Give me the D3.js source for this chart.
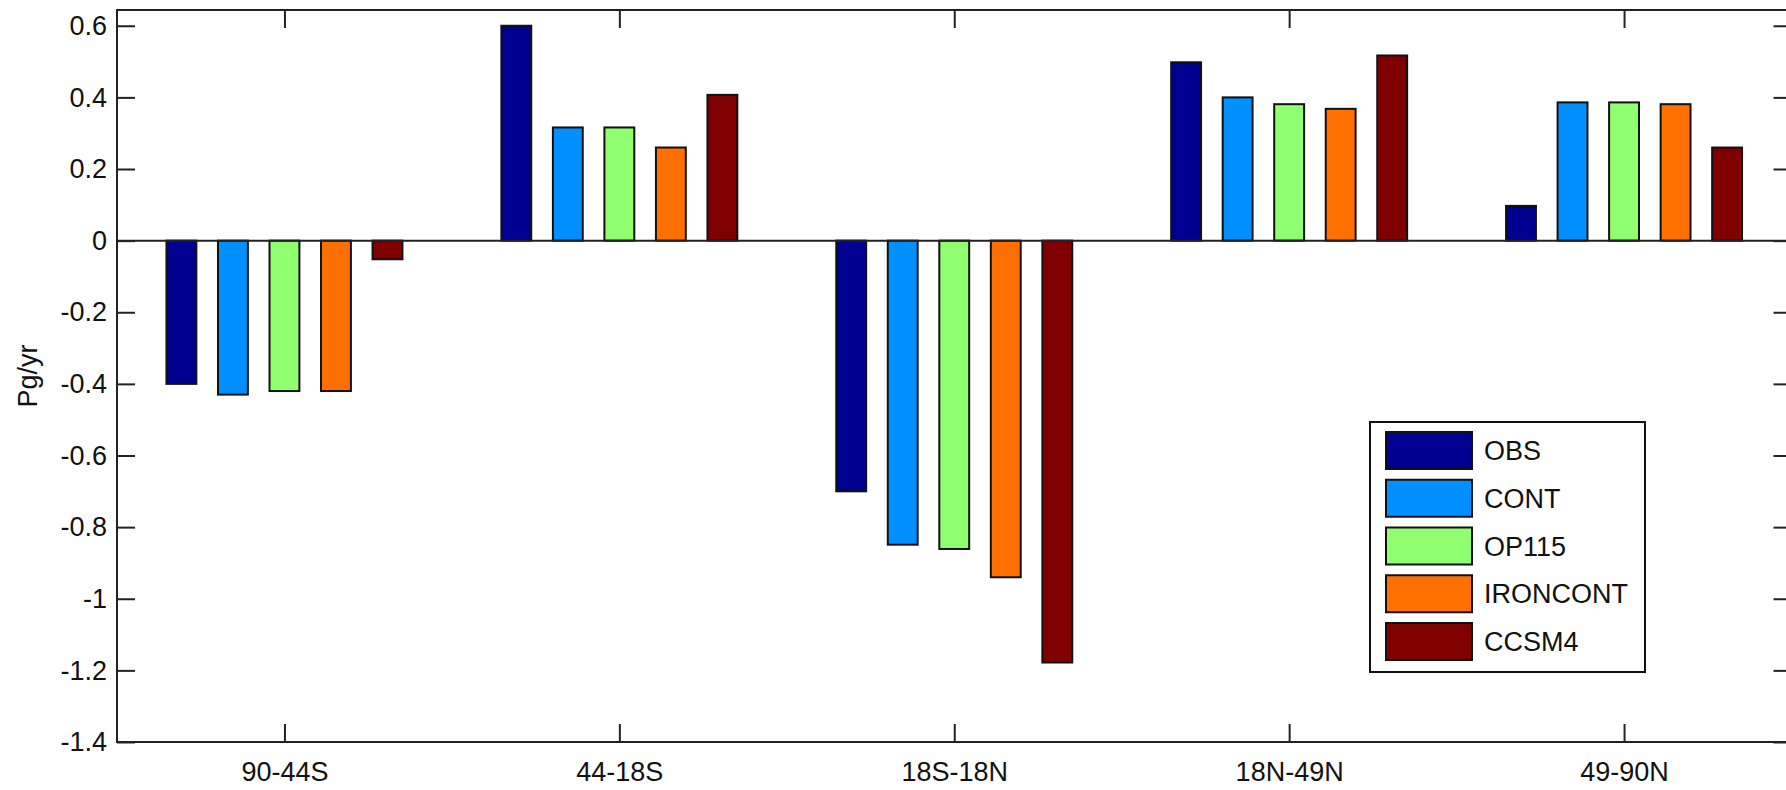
<html>
<head>
    <title>Pg/yr by latitude band</title>
    <style>
        body {
            margin: 0;
            background-color: white;
        }
        text {
            font-family: "Liberation Sans", Arial, sans-serif;
            font-size: 27px;
            fill: #111;
        }
        .bar {
            stroke: #111;
            stroke-width: 2px;
        }
        .frame {
            fill: none;
            stroke: #222;
            stroke-width: 2px;
        }
        .tick-line {
            stroke: #222;
            stroke-width: 2px;
        }
    </style>
</head>
<body>
    <svg id="container" width="1786" height="790"></svg>
</body>
<script src="https://cdn.jsdelivr.net/npm/d3@7"></script>
<script>
    let categories = ["90-44S", "44-18S", "18S-18N", "18N-49N", "49-90N"]
    let series = ["OBS", "CONT", "OP115", "IRONCONT", "CCSM4"]
    let colors = ["#000090", "#0090ff", "#90ff70", "#ff7000", "#800000"]

    // one array per series, one value per latitude band
    let obs = [-0.40, 0.60, -0.70, 0.498, 0.097]
    let cont = [-0.43, 0.316, -0.849, 0.40, 0.386]
    let op115 = [-0.42, 0.316, -0.861, 0.381, 0.386]
    let ironcont = [-0.42, 0.26, -0.94, 0.368, 0.381]
    let ccsm4 = [-0.052, 0.407, -1.178, 0.517, 0.26]

    let yTicks = [-1.4, -1.2, -1, -0.8, -0.6, -0.4, -0.2, 0, 0.2, 0.4, 0.6]
    let yTitle = "Pg/yr"

    let values = [obs, cont, op115, ironcont, ccsm4]

    let svg = d3.select("#container")

    let plotLeft = 117, plotRight = 1791.5, plotTop = 10, plotBottom = 742
    let tickLen = 18

    let xScale = d3.scaleLinear()
        .domain([0.5, categories.length + 0.5])
        .range([plotLeft, plotRight])

    let yScale = d3.scaleLinear()
        .domain([-1.4, 0.644])
        .range([plotBottom, plotTop])

    // bars inside a group, group width 0.769 in x units
    let groupHalf = (xScale(1.3846) - xScale(1)) 
    let inner = d3.scaleBand()
        .domain(series)
        .range([-groupHalf, groupHalf])
        .paddingInner(0.42)
        .paddingOuter(0.21)

    let rows = []
    categories.forEach((c, i) => {
        series.forEach((s, j) => {
            rows.push({ cat: i + 1, series: s, color: colors[j], value: values[j][i] })
        })
    })

    let body = svg.append("g")

    body.selectAll(".bar")
        .data(rows)
        .enter()
        .append("rect")
        .attr("class", "bar")
        .attr("x", d => xScale(d.cat) + inner(d.series))
        .attr("width", inner.bandwidth())
        .attr("y", d => yScale(Math.max(0, d.value)))
        .attr("height", d => Math.abs(yScale(d.value) - yScale(0)))
        .attr("fill", d => d.color)

    // zero baseline
    body.append("line")
        .attr("class", "tick-line")
        .attr("x1", plotLeft).attr("x2", plotRight)
        .attr("y1", yScale(0)).attr("y2", yScale(0))

    // axes, matlab style ticks pointing inward
    let yAxis = d3.axisLeft(yScale)
        .tickValues(yTicks)
        .tickSize(-tickLen)
        .tickPadding(10)
        .tickFormat(d => d3.format("~g")(d).replace("−", "-"))

    let gy = svg.append("g")
        .attr("transform", `translate(${plotLeft}, 0)`)
        .call(yAxis)
    gy.select(".domain").remove()
    gy.selectAll(".tick line").attr("class", "tick-line")

    let gyr = svg.append("g")
        .attr("transform", `translate(${plotRight}, 0)`)
        .call(d3.axisRight(yScale).tickValues(yTicks).tickSize(-tickLen).tickFormat(""))
    gyr.select(".domain").remove()
    gyr.selectAll(".tick line").attr("class", "tick-line")

    let xAxis = d3.axisBottom(xScale)
        .tickValues(d3.range(1, categories.length + 1))
        .tickSize(-tickLen)
        .tickPadding(20)
        .tickFormat(d => categories[d - 1])

    let gx = svg.append("g")
        .attr("transform", `translate(0, ${plotBottom})`)
        .call(xAxis)
    gx.select(".domain").remove()
    gx.selectAll(".tick line").attr("class", "tick-line")

    let gxt = svg.append("g")
        .attr("transform", `translate(0, ${plotTop})`)
        .call(d3.axisTop(xScale).tickValues(d3.range(1, categories.length + 1)).tickSize(-tickLen).tickFormat(""))
    gxt.select(".domain").remove()
    gxt.selectAll(".tick line").attr("class", "tick-line")

    svg.selectAll(".tick text")
        .style("font-family", "'Liberation Sans', Arial, sans-serif")
        .style("font-size", "27px")
        .attr("fill", "#111")

    // box
    svg.append("rect")
        .attr("class", "frame")
        .attr("x", plotLeft).attr("y", plotTop)
        .attr("width", plotRight - plotLeft).attr("height", plotBottom - plotTop)

    // y title
    svg.append("text")
        .attr("transform", `translate(37, ${(plotTop + plotBottom) / 2}) rotate(-90)`)
        .attr("text-anchor", "middle")
        .text(yTitle)

    // legend
    let legend = svg.append("g")
        .attr("transform", "translate(1370, 422)")

    legend.append("rect")
        .attr("width", 275)
        .attr("height", 250)
        .attr("fill", "white")
        .attr("stroke", "#111")
        .attr("stroke-width", 2)

    let item = legend.selectAll(".item")
        .data(series)
        .enter()
        .append("g")
        .attr("transform", (d, i) => `translate(16, ${10 + i * 47.75})`)

    item.append("rect")
        .attr("class", "bar")
        .attr("width", 86)
        .attr("height", 37)
        .attr("fill", (d, i) => colors[i])

    item.append("text")
        .attr("x", 98)
        .attr("y", 18.5)
        .attr("dy", "0.36em")
        .text(d => d)
</script>
</html>
